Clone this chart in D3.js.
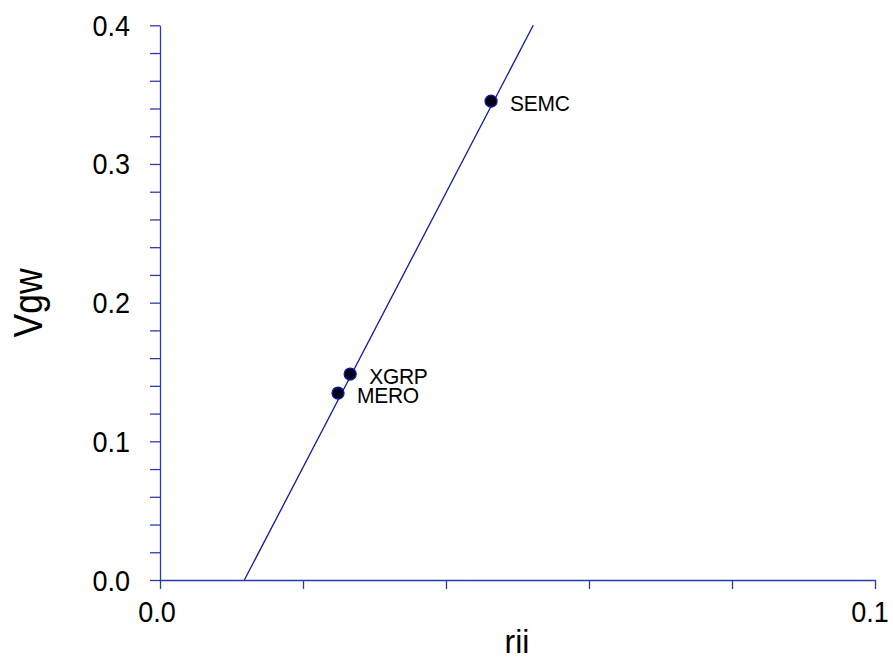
<!DOCTYPE html>
<html>
<head>
<meta charset="utf-8">
<script src="https://cdn.jsdelivr.net/npm/d3@7"></script>
<style>
  body { margin: 0; background: #fff; }
  svg { display: block; font-family: "Liberation Sans", Arial, sans-serif; }
</style>
</head>
<body>
<svg id="chart" width="893" height="667"></svg>
<script>
// Sites and their coordinates
const sites = ["SEMC", "XGRP", "MERO"];
const riiValues = [0.0463, 0.0266, 0.0249];
const vgwValues = [0.3453, 0.1485, 0.1348];

// Fitted regression line endpoints
const fitX = [0.0118, 0.0522];
const fitY = [0.0, 0.4];

// Axis ticks
const xTicks = [0, 0.02, 0.04, 0.06, 0.08, 0.1];
const xTickLabels = ["0.0", "", "", "", "", "0.1"];
const yTicks = [0, 0.02, 0.04, 0.06, 0.08, 0.1, 0.12, 0.14, 0.16, 0.18, 0.2,
                0.22, 0.24, 0.26, 0.28, 0.3, 0.32, 0.34, 0.36, 0.38, 0.4];
const yLabelTicks = [0, 0.1, 0.2, 0.3, 0.4];
const yTickLabels = ["0.0", "0.1", "0.2", "0.3", "0.4"];

const axisColor = "#2a3aa8";
const lineColor = "#0d1c9c";
const stretch = 1.1; // glyphs are drawn slightly taller than wide

const svg = d3.select("#chart");
const x = d3.scaleLinear().domain([0, 0.1]).range([160, 875]);
const y = d3.scaleLinear().domain([0, 0.4]).range([580, 25.3]);

// X axis
const xAxis = svg.append("g").attr("transform", `translate(0,${y(0)})`)
  .call(d3.axisBottom(x).tickValues(xTicks).tickSize(9).tickSizeOuter(0).tickFormat(""));
xAxis.selectAll("path, line").attr("stroke", axisColor).attr("stroke-width", 1.3);
svg.append("g").selectAll("text").data(xTicks.map((t, i) => [t, xTickLabels[i]]).filter(d => d[1]))
  .join("text")
  .attr("transform", d => `translate(${x(d[0]) - (d[0] === 0.1 ? 5 : 3)},622) scale(1,${stretch})`)
  .attr("text-anchor", "middle")
  .attr("font-size", 27)
  .attr("fill", "#000")
  .text(d => d[1]);

// Y axis
const yAxis = svg.append("g").attr("transform", `translate(${x(0)},0)`)
  .call(d3.axisLeft(y).tickValues(yTicks).tickSize(10).tickSizeOuter(0).tickFormat(""));
yAxis.selectAll("path, line").attr("stroke", axisColor).attr("stroke-width", 1.3);
svg.append("g").selectAll("text").data(yLabelTicks)
  .join("text")
  .attr("transform", d => `translate(130,${y(d) + 10.5}) scale(1,${stretch})`)
  .attr("text-anchor", "end")
  .attr("font-size", 27)
  .attr("fill", "#000")
  .text((d, i) => yTickLabels[i]);

// Axis titles
svg.append("text")
  .attr("transform", `translate(517,653) scale(1,1.05)`)
  .attr("text-anchor", "middle")
  .attr("font-size", 32)
  .text("rii");
svg.append("text")
  .attr("transform", `translate(42,303) rotate(-90) scale(1,1.12)`)
  .attr("text-anchor", "middle")
  .attr("font-size", 35.5)
  .text("Vgw");

// Regression line
svg.append("line")
  .attr("x1", x(fitX[0])).attr("y1", y(fitY[0]))
  .attr("x2", x(fitX[1])).attr("y2", y(fitY[1]))
  .attr("stroke", lineColor).attr("stroke-width", 1.3);

// Points
const pts = sites.map((s, i) => ({ name: s, rii: riiValues[i], vgw: vgwValues[i] }));
svg.append("g").selectAll("circle").data(pts).join("circle")
  .attr("cx", d => x(d.rii)).attr("cy", d => y(d.vgw))
  .attr("r", 6)
  .attr("fill", "#00001a")
  .attr("stroke", lineColor).attr("stroke-width", 1.3);

// Point labels
svg.append("g").selectAll("text").data(pts).join("text")
  .attr("transform", d => `translate(${x(d.rii) + 19},${y(d.vgw) + 10}) scale(1,1.08)`)
  .attr("font-size", 21)
  .attr("letter-spacing", -0.3)
  .attr("fill", "#000")
  .text(d => d.name);
</script>
</body>
</html>
